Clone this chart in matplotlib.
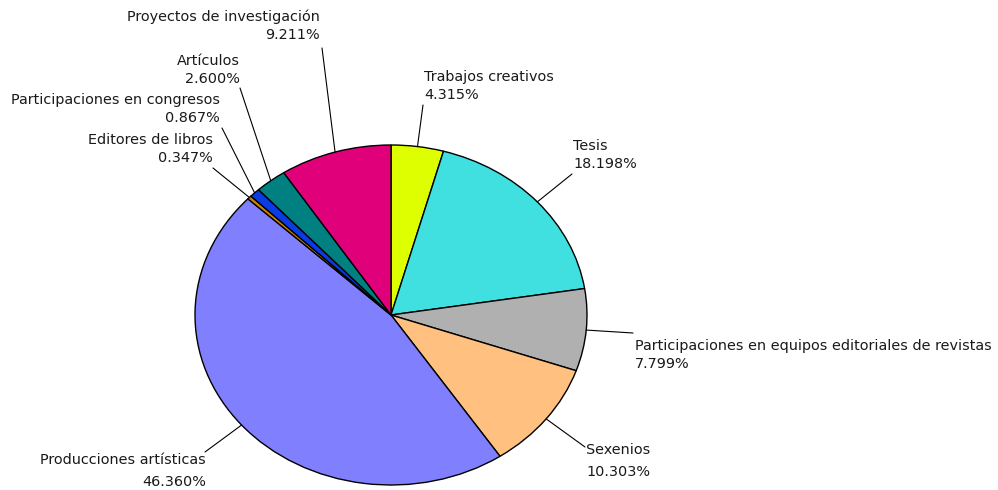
import numpy as np
import matplotlib
matplotlib.use('Agg')
import matplotlib.pyplot as plt

# data (clockwise from the top)
labels = ['Trabajos creativos', 'Tesis',
          'Participaciones en equipos editoriales de revistas', 'Sexenios',
          'Producciones artísticas', 'Editores de libros',
          'Participaciones en congresos', 'Artículos',
          'Proyectos de investigación']
values = [4.315, 18.198, 7.799, 10.303, 46.360, 0.347, 0.867, 2.600, 9.211]
colors = ['#DDFF00', '#40E0E0', '#B0B0B0', '#FFC080', '#8080FF',
          '#CC8400', '#0A3CE6', '#008080', '#E0007A']

# label layout in pixels from top-left: (text x, text y, align, line end x, line end y, linespacing)
label_pos = [
    (424, 86, 'left', 423, 105, 1.4),
    (573, 155, 'left', 572, 174, 1.4),
    (635, 355, 'left', 633, 333, 1.4),
    (586, 461, 'left', 585, 447, 1.8),
    (206, 471, 'right', 205, 452, 1.8),
    (213, 149, 'right', 213, 168, 1.4),
    (220, 109, 'right', 222, 128, 1.4),
    (240, 70, 'right', 240, 88, 1.4),
    (320, 26, 'right', 322, 48, 1.4),
]

W, H = 998, 490
fig = plt.figure(figsize=(W / 100, H / 100), dpi=100)
ax = fig.add_axes([195 / W, 5 / H, 392 / W, 340 / H])

wedges, _ = ax.pie(values, colors=colors, startangle=90, counterclock=False,
                   radius=1, wedgeprops=dict(edgecolor='black', linewidth=1))
ax.set_aspect('auto')
ax.set_xlim(-1, 1)
ax.set_ylim(-1, 1)
ax.axis('off')

total = sum(values)
start = 90.0
for lab, v, lp in zip(labels, values, label_pos):
    mid = np.deg2rad(start - v / total * 360 / 2)
    start -= v / total * 360
    tx, ty, ha, lx, ly, ls = lp
    ax.annotate('', xy=(np.cos(mid), np.sin(mid)), xycoords='data',
                xytext=(lx, H - ly), textcoords='figure pixels',
                arrowprops=dict(arrowstyle='-', color='black', lw=0.8,
                                shrinkA=0, shrinkB=0), annotation_clip=False)
    fig.text(tx / W, 1 - ty / H, f'{lab}\n{v:.3f}%', ha=ha, va='center',
             multialignment=ha, fontsize=10.4, linespacing=ls, color='#1a1a1a')

fig.savefig('out.png', dpi=100)
